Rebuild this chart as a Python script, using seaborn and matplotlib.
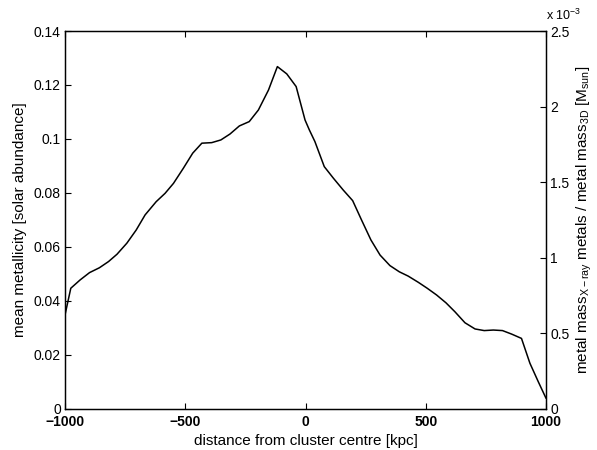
import numpy as np
import pandas as pd
import matplotlib
matplotlib.use("Agg")
import matplotlib.pyplot as plt
import seaborn as sns

distance = [-1000, -976, -937, -898, -857, -819, -784, -743, -704, -667, -621, -584,
            -549, -508, -469, -431, -390, -352, -314, -275, -234, -196, -154, -117,
            -78, -39, -2, 16, 39, 78, 116, 157, 196, 233, 272, 310, 351, 390, 427,
            469, 506, 545, 584, 621, 663, 705, 743, 781, 819, 857, 898, 933, 968, 1000]
metallicity = [0.0347, 0.0446, 0.0477, 0.0504, 0.0522, 0.0545, 0.0572, 0.0613, 0.0662,
               0.0718, 0.0767, 0.0798, 0.0835, 0.0891, 0.0947, 0.0984, 0.0986, 0.0996,
               0.1018, 0.1048, 0.1064, 0.1107, 0.1181, 0.1268, 0.1241, 0.1194, 0.1070,
               0.1033, 0.0990, 0.0897, 0.0854, 0.0810, 0.0771, 0.0699, 0.0625, 0.0569,
               0.0530, 0.0507, 0.0491, 0.0468, 0.0446, 0.0421, 0.0392, 0.0359, 0.0318,
               0.0295, 0.0289, 0.0291, 0.0289, 0.0276, 0.0260, 0.0168, 0.0099, 0.0038]

left_ticks = [0, 0.02, 0.04, 0.06, 0.08, 0.1, 0.12, 0.14]
left_labels = ["0", "0.02", "0.04", "0.06", "0.08", "0.1", "0.12", "0.14"]
right_ticks = [0, 0.0005, 0.001, 0.0015, 0.002, 0.0025]
right_labels = ["0", "0.5", "1", "1.5", "2", "2.5"]
x_ticks = [-1000, -500, 0, 500, 1000]
x_labels = ["\u22121000", "\u2212500", "0", "500", "1000"]

sns.set_theme(style="ticks")
plt.rcParams["font.family"] = ["Liberation Sans", "DejaVu Sans"]
plt.rcParams["xtick.direction"] = "in"
plt.rcParams["ytick.direction"] = "in"
plt.rcParams["text.color"] = "black"
plt.rcParams["axes.labelcolor"] = "black"
plt.rcParams["xtick.color"] = "black"
plt.rcParams["ytick.color"] = "black"
plt.rcParams["xtick.labelcolor"] = "black"
plt.rcParams["ytick.labelcolor"] = "black"
plt.rcParams["mathtext.fontset"] = "custom"
plt.rcParams["mathtext.rm"] = "Liberation Sans"
plt.rcParams["mathtext.it"] = "Liberation Sans"

df = pd.DataFrame({"distance": distance, "metallicity": metallicity})

fig = plt.figure(figsize=(5.97, 4.5), dpi=100)
ax = fig.add_axes([0.1089, 0.0922, 0.8057, 0.8389])
sns.lineplot(data=df, x="distance", y="metallicity", ax=ax, color="black", linewidth=1.1)

ax.set_xlim(-1000, 1000)
ax.set_ylim(0, 0.14)
ax.set_xticks(x_ticks)
ax.set_xticklabels(x_labels, fontsize=10, fontweight="bold")
ax.set_yticks(left_ticks)
ax.set_yticklabels(left_labels, fontsize=10)
ax.tick_params(axis="both", length=4, width=0.8, color="black", pad=3)
ax.tick_params(axis="x", top=True, pad=5)
ax.set_xlabel("distance from cluster centre [kpc]", fontsize=11, labelpad=3)
ax.set_ylabel("mean metallicity [solar abundance]", fontsize=11, labelpad=5)
for s in ax.spines.values():
    s.set_color("black")
    s.set_linewidth(0.9)

ax2 = ax.twinx()
ax2.set_ylim(0, 0.0025)
ax2.set_yticks(right_ticks)
ax2.set_yticklabels(right_labels, fontsize=10)
ax2.tick_params(axis="y", length=4, width=0.8, color="black", direction="in", pad=3)
ax2.set_ylabel("metal mass$_{\\mathrm{X\u2212ray}}$ metals / metal mass$_{\\mathrm{3D}}$ [M$_{\\mathrm{sun}}$]",
               fontsize=11, labelpad=4)
for s in ax2.spines.values():
    s.set_color("black")
    s.set_linewidth(0.9)
ax2.text(1.0, 1.02, "x 10$^{-3}$", transform=ax2.transAxes, fontsize=9, ha="left", va="bottom")

fig.savefig("out.png", dpi=100)
